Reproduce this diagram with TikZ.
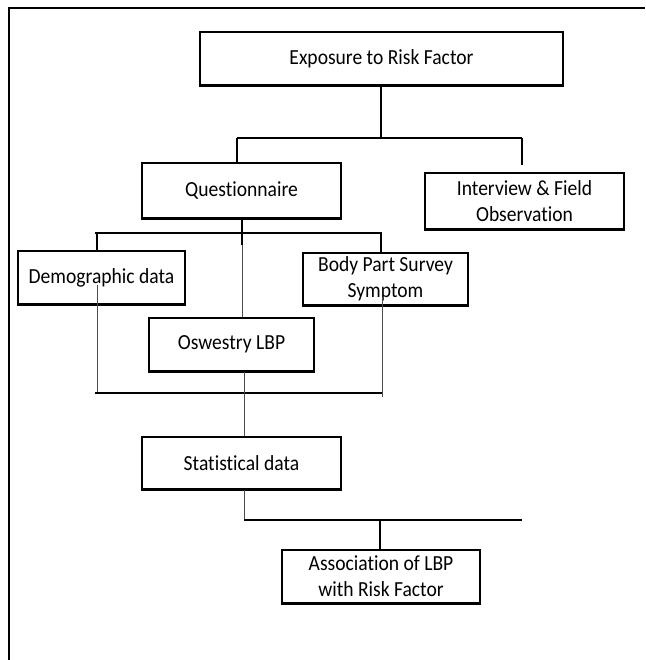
\documentclass[tikz,border=0pt]{standalone}
\usepackage{fontspec}
\setmainfont{Carlito}[Ligatures=NoCommon,FakeStretch=0.91]
\begin{document}
\begin{tikzpicture}[x=1pt,y=-1pt,
  box/.style={draw=black,line width=1.1pt,fill=white,inner sep=0pt,align=center,
    font=\fontsize{21.5}{26}\selectfont},
  thickln/.style={line width=2pt,black},
  thinln/.style={line width=1pt,black!70},
  frameln/.style={line width=2pt,black}]
\useasboundingbox (0,0) rectangle (645,660);
% frame
\coordinate (ftl) at (9,8);
\coordinate (ftr) at (645,8);
\coordinate (fbl) at (9,660);
\draw[frameln] (ftr) -- (ftl) -- (fbl);
% boxes
\node[box,minimum width=363pt,minimum height=53pt] (exp) at (381.5,58.5) {Exposure to Risk Factor};
\node[box,minimum width=199pt,minimum height=55pt] (q) at (241.5,190.5) {Questionnaire};
\node[box,minimum width=199pt,minimum height=56pt] (iv) at (524.5,201) {Interview \& Field\\Observation};
\node[box,minimum width=167pt,minimum height=53pt] (demo) at (101.5,277.5) {Demographic data};
\node[box,minimum width=165pt,minimum height=52pt] (body) at (385.5,279) {Body Part Survey\\Symptom};
\node[box,minimum width=165pt,minimum height=53pt] (osw) at (231.5,344.5) {Oswestry LBP};
\node[box,minimum width=199pt,minimum height=52pt] (stat) at (241.5,463) {Statistical data};
\node[box,minimum width=198pt,minimum height=53pt] (assoc) at (381,576.5) {Association of LBP\\with Risk Factor};
% thicker bottom edges
\foreach \n in {exp,q,iv,demo,body,osw,stat,assoc}
  \draw[line width=2.4pt] ([yshift=-0.6pt]\n.south west) -- ([yshift=-0.6pt]\n.south east);
% level 1
\coordinate (b1c) at (381,138);
\coordinate (b1l) at (237,138);
\coordinate (b1r) at (522,138);
\coordinate (ivtop) at (522,165);
\draw[thickln] (exp.south -| b1c) -- (b1c);
\draw[thickln] (b1l) -- (b1r);
\draw[thickln] (b1l) -- (b1l |- q.north);
\draw[thickln] (b1r) -- (ivtop);
% level 2
\coordinate (qd) at (242,245);
\coordinate (b2l) at (95,233);
\coordinate (b2r) at (382,233);
\coordinate (b2dl) at (97,233);
\coordinate (b2dr) at (381,233);
\draw[thickln] (q.south -| qd) -- (qd);
\draw[thinln] (qd) -- (qd |- osw.north);
\draw[thickln] (b2l) -- (b2r);
\draw[thickln] (b2dl) -- (b2dl |- demo.north);
\draw[thickln] (b2dr) -- (b2dr |- body.north);
% collecting bar
\coordinate (dmin) at (97,285);
\coordinate (bmin) at (382,297);
\coordinate (b3l) at (95,393);
\coordinate (b3r) at (382,393);
\coordinate (b3rr) at (382,397);
\draw[thinln] (dmin) -- (dmin |- b3l);
\draw[thinln] (bmin) -- (b3rr);
\draw[thickln] (b3l) -- (b3r);
% to statistical
\coordinate (od) at (244,371);
\draw[thinln] (osw.south -| od) -- (od |- stat.north);
% to association
\coordinate (b4l) at (244,520);
\coordinate (b4r) at (522,520);
\coordinate (b4c) at (380,520);
\draw[thinln] (stat.south -| b4l) -- (b4l);
\draw[thickln] (b4l) -- (b4r);
\draw[thickln] (b4c) -- (b4c |- assoc.north);
\end{tikzpicture}
\end{document}
